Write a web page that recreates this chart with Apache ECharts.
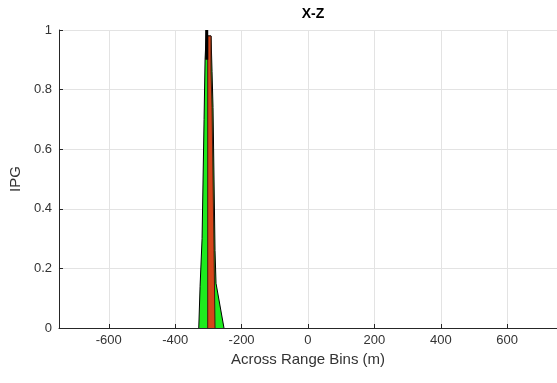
<!DOCTYPE html>
<html><head><meta charset="utf-8">
<script src="https://cdn.jsdelivr.net/npm/echarts@6/dist/echarts.min.js"></script>
<style>html,body{margin:0;padding:0;background:#fff}#c{width:557px;height:383px}</style>
</head><body><div id="c"></div>
<script>
// Data
const titleText = 'X-Z';
const xName = 'Across Range Bins (m)';
const yName = 'IPG';
const xMin = -750, xMax = 750;
const xTicks = [-600, -400, -200, 0, 200, 400, 600];
const yMin = 0, yMax = 1, yStep = 0.2;
// green envelope (x in m, IPG)
const greenX = [-329, -325, -319, -316, -313, -310, -306, -302, -292, -289, -286, -283, -280, -277, -253];
const greenY = [0, 0.14, 0.30, 0.50, 0.70, 0.90, 1.0, 0.98, 0.98, 0.86, 0.74, 0.50, 0.26, 0.15, 0];
// red region
const redX = [-302, -302, -292, -292, -289, -289, -286, -286, -283, -283, -280, -280];
const redY = [0, 0.98, 0.98, 0.86, 0.86, 0.74, 0.74, 0.50, 0.50, 0.26, 0.26, 0];
// black peak stem
const stemX = [-305, -305];
const stemY = [0.9, 1];

const zip = (a, b) => a.map((v, i) => [v, b[i]]);
const font = 'Liberation Sans, Arial, Helvetica, sans-serif';

const chart = echarts.init(document.getElementById('c'), null, {renderer: 'canvas'});
chart.setOption({
  animation: false,
  title: {
    text: titleText, left: 308, top: 2, textAlign: 'center',
    textStyle: {fontFamily: font, fontSize: 14, fontWeight: 'bold', color: '#000'}
  },
  grid: {left: 56, top: 30, right: -3, bottom: 55, containLabel: false},
  xAxis: {
    type: 'value', min: xMin, max: xMax,
    name: xName, nameLocation: 'middle', nameGap: 21,
    nameTextStyle: {fontFamily: font, fontSize: 15, color: '#333'},
    axisLine: {show: true, onZero: false, lineStyle: {color: '#262626', width: 1}},
    axisTick: {show: true, inside: true, length: 4, customValues: xTicks, lineStyle: {color: '#262626'}},
    axisLabel: {fontFamily: font, fontSize: 13, color: '#333', margin: 6, customValues: xTicks},
    splitLine: {show: true, lineStyle: {color: '#e3e3e3', width: 1}}
  },
  yAxis: {
    type: 'value', min: yMin, max: yMax, interval: yStep,
    name: yName, nameLocation: 'middle', nameGap: 32, nameRotate: 90,
    nameTextStyle: {fontFamily: font, fontSize: 15, color: '#333'},
    axisLine: {show: true, onZero: false, lineStyle: {color: '#262626', width: 1}},
    axisTick: {show: true, inside: true, length: 4, lineStyle: {color: '#262626'}},
    axisLabel: {fontFamily: font, fontSize: 13, color: '#333', margin: 7,
      formatter: v => String(Math.round(v * 10) / 10)},
    splitLine: {show: true, lineStyle: {color: '#e3e3e3', width: 1}}
  },
  series: [
    {type: 'line', data: zip(greenX, greenY), showSymbol: false, symbol: 'none',
      lineStyle: {color: '#000', width: 1}, areaStyle: {color: '#1EEB1E', opacity: 1}, z: 2},
    {type: 'line', data: zip(redX, redY), showSymbol: false, symbol: 'none',
      lineStyle: {color: '#3a1a10', width: 1}, areaStyle: {color: '#D5461A', opacity: 1}, z: 3},
    {type: 'line', data: zip(stemX, stemY), showSymbol: false, symbol: 'none',
      lineStyle: {color: '#000', width: 3}, z: 4}
  ]
});
</script></body></html>
